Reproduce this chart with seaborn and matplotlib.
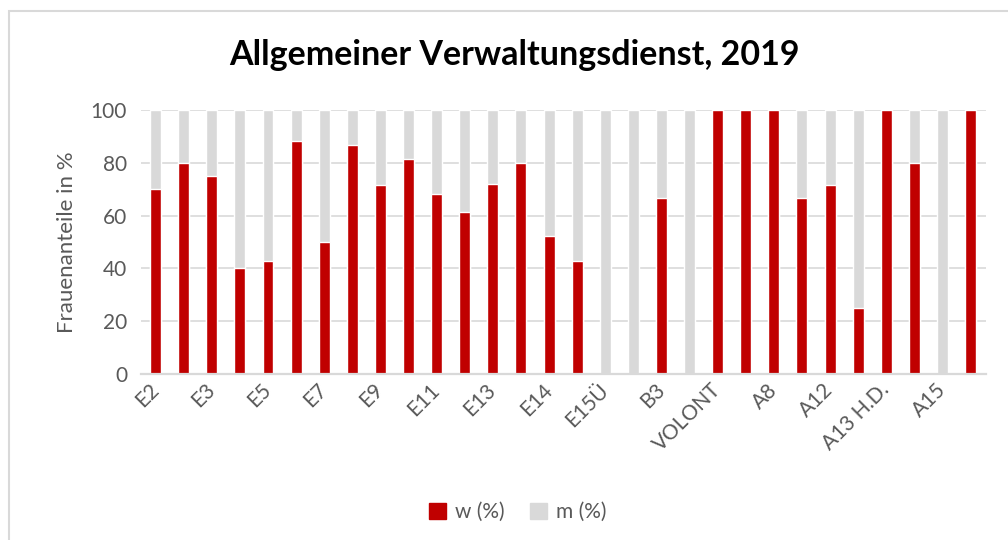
import matplotlib
matplotlib.use("Agg")
import matplotlib.pyplot as plt
from matplotlib.patches import Patch, Rectangle
import seaborn as sns
import pandas as pd

categories = ["E2", "E2Ü", "E3", "E4", "E5", "E6", "E7", "E8", "E9", "E10",
              "E11", "E12", "E13", "E13Ü", "E14", "E15", "E15Ü", "B2", "B3", "B4",
              "VOLONT", "A7", "A8", "A9", "A12", "A13", "A13 H.D.", "A14", "A15", "A16"]
w_pct = [70.0, 80.0, 75.0, 40.0, 42.9, 88.2, 50.0, 86.7, 71.4, 81.5,
         68.2, 61.5, 71.8, 80.0, 52.2, 42.9, 0.0, 0.0, 66.7, 0.0,
         100.0, 100.0, 100.0, 66.7, 71.4, 25.0, 100.0, 80.0, 0.0, 100.0]
m_pct = [100 - v for v in w_pct]
legend_labels = ["w (%)", "m (%)"]
title = "Allgemeiner Verwaltungsdienst, 2019"
ylabel = "Frauenanteile in %"

RED = "#c00000"
GRAY = "#d9d9d9"
TXT = "#595959"

sns.set_theme(style="white")
plt.rcParams["font.family"] = ["Lato", "DejaVu Sans"]

df = pd.DataFrame({"cat": categories, "w": w_pct, "m": m_pct})
df["total"] = df["w"] + df["m"]

fig = plt.figure(figsize=(10.08, 5.4), dpi=100)
ax = fig.add_axes([141 / 1008, 1 - 374.3 / 540, (986 - 141) / 1008, (374.3 - 109.7) / 540])

sns.barplot(data=df, x="cat", y="total", color=GRAY, width=0.39, ax=ax,
            saturation=1, zorder=2)
sns.barplot(data=df, x="cat", y="w", color=RED, width=0.39, ax=ax,
            saturation=1, zorder=3)

ax.set_ylim(0, 100)
ax.set_xlim(-0.52, 29.55)
ax.set_yticks(range(0, 101, 20))
ax.yaxis.grid(True, color=GRAY, linewidth=1.2, zorder=0)
ax.set_axisbelow(True)
for s in ["top", "right", "left"]:
    ax.spines[s].set_visible(False)
ax.spines["bottom"].set_color(GRAY)
ax.spines["bottom"].set_linewidth(1.6)
ax.spines["bottom"].set_zorder(4)

ticks = list(range(0, len(categories), 2))
ax.set_xticks(ticks)
ax.set_xticklabels([categories[i] for i in ticks], rotation=45, ha="right",
                   va="center", rotation_mode="anchor")
ax.tick_params(axis="x", length=0, pad=9, labelsize=15, labelcolor=TXT)
ax.tick_params(axis="y", length=0, pad=10, labelsize=15, labelcolor=TXT)
ax.set_xlabel("")
ax.set_ylabel(ylabel, fontsize=16, color=TXT, labelpad=10)

fig.text(514 / 1008, 1 - 55 / 540, title, ha="center", va="center",
         fontsize=24.5, fontweight="bold", color="black")

handles = [Patch(facecolor=RED, edgecolor=RED), Patch(facecolor=GRAY, edgecolor=GRAY)]
fig.legend(handles, legend_labels, loc="center", bbox_to_anchor=(518 / 1008, 1 - 512 / 540),
           ncol=2, frameon=False, fontsize=15, labelcolor=TXT,
           handlelength=0.8, handleheight=0.8, handletextpad=0.45, columnspacing=1.2)

fig.add_artist(Rectangle((8.5 / 1008, -0.05), 1.1, (540 - 10.5) / 540 + 0.05,
                         transform=fig.transFigure, fill=False, edgecolor=GRAY,
                         linewidth=1.5))

fig.savefig("out.png", dpi=100)
